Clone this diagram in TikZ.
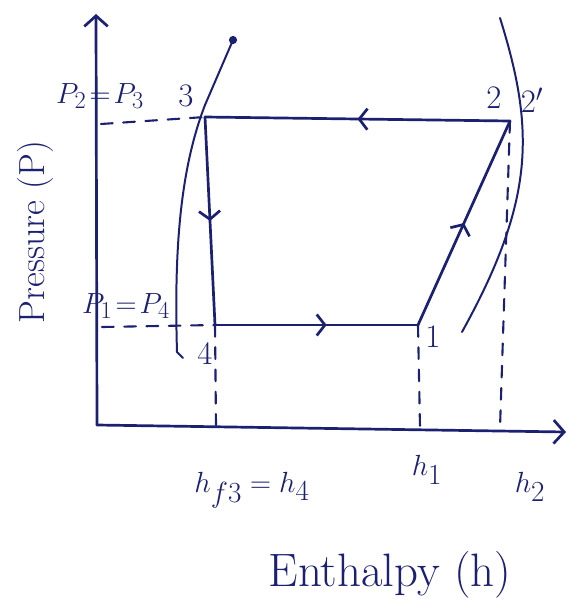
\documentclass[tikz,border=0pt]{standalone}
\usetikzlibrary{arrows.meta,decorations.markings}
\definecolor{ink}{HTML}{1B2070}
\begin{document}
\begin{tikzpicture}[x=0.03cm,y=-0.03cm, draw=ink, line width=2.3pt, line cap=round, line join=round,
  lbl/.style={text=ink, font=\fontsize{28}{30}\selectfont, inner sep=0pt},
  hlbl/.style={lbl, font=\fontsize{34}{36}\selectfont},
  axis/.style={-{Straight Barb[length=9pt,width=20pt]}},
  midarrow/.style={postaction=decorate, decoration={markings, mark=at position #1 with {\arrow{Straight Barb[length=7pt,width=18pt]}}}},
  guide/.style={dash pattern=on 10pt off 9pt, line width=1.8pt},
  curve/.style={line width=1.7pt}]
\useasboundingbox (0,0) rectangle (572,610);
% coordinates
\coordinate (O) at (97,425);
\coordinate (Ytop) at (96,14);
\coordinate (Xend) at (566,432);
\coordinate (P3) at (205,117);
\coordinate (P2) at (510,121);
\coordinate (P4) at (215,325);
\coordinate (P1) at (418,325);
\coordinate (Ya) at (101,124);
\coordinate (Yb) at (102,327);
\coordinate (X4) at (216,425);
\coordinate (X1) at (420,427);
\coordinate (X2) at (500,428);
\coordinate (Ltop) at (233,40);
% axes
\draw[axis] (O) -- (Ytop);
\draw[axis] (O) -- (Xend);
% saturation curves
\draw[curve] (183,358) -- (177,352) .. controls (174,250) and (180,170) .. (205,105) -- (Ltop);
\fill[ink] (Ltop) circle[radius=3.5pt];
\draw[curve] (500,18) .. controls (535,130) and (535,200) .. (462,332);
% cycle
\draw[midarrow=0.5] (P2) -- (P3);
\draw[midarrow=0.5] (P3) -- (P4);
\draw[midarrow=0.55] (P4) -- (P1);
\draw[midarrow=0.5] (P1) -- (P2);
% guides
\draw[guide] (Ya) -- (P3);
\draw[guide] (Yb) -- (P4);
\draw[guide] (P4) -- (X4);
\draw[guide] (P1) -- (X1);
\draw[guide] (P2) -- (X2);
% labels
\node[lbl] (lP23) at (100,96) {$P_2\!=\!P_3$};
\node[lbl] (l3) at (186,96) {3};
\node[lbl] (l2) at (494,98) {2};
\node[lbl] (l2p) at (532,100) {2$'$};
\node[lbl] (lP14) at (126,306) {$P_1\!=\!P_4$};
\node[lbl] (l4) at (205,354) {4};
\node[lbl] (l1) at (433,337) {1};
\node[hlbl] (lhf) at (252,490) {$h_{f3}=h_4$};
\node[hlbl] (lh1) at (427,470) {$h_1$};
\node[hlbl] (lh2) at (530,487) {$h_2$};
\node[lbl, font=\fontsize{40}{42}\selectfont] (lx) at (390,575) {Enthalpy (h)};
\node[lbl, font=\fontsize{31}{33}\selectfont, rotate=90] (ly) at (35,232) {Pressure (P)};
\end{tikzpicture}
\end{document}
